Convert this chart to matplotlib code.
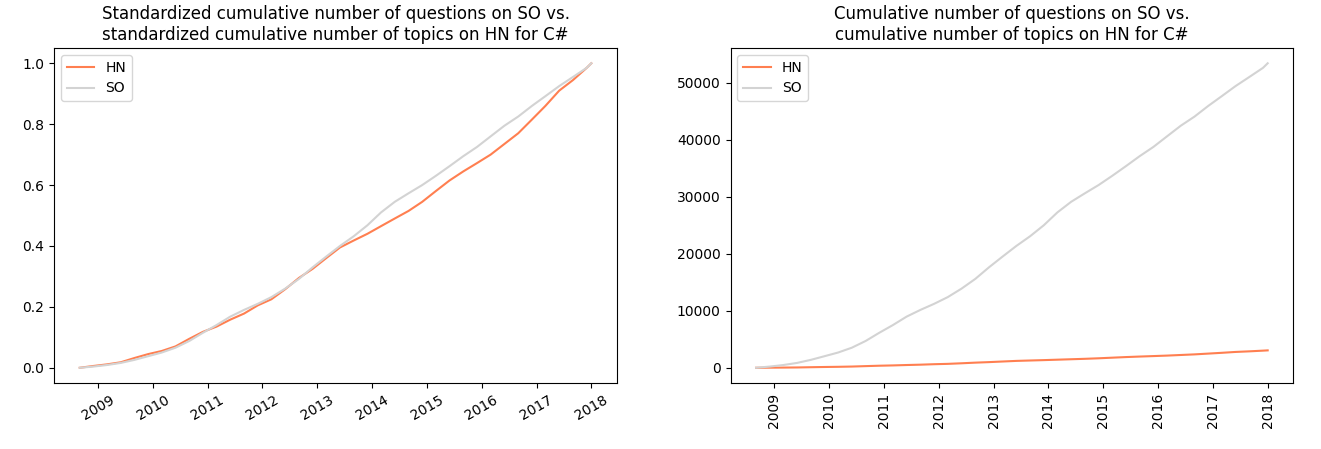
import numpy as np
import pandas as pd
import matplotlib
matplotlib.use("Agg")
import matplotlib.pyplot as plt
import matplotlib.dates as mdates

# quarterly sample dates
dates = pd.to_datetime([
    "2008-09-01", "2008-12-01",
    "2009-03-01", "2009-06-01", "2009-09-01", "2009-12-01",
    "2010-03-01", "2010-06-01", "2010-09-01", "2010-12-01",
    "2011-03-01", "2011-06-01", "2011-09-01", "2011-12-01",
    "2012-03-01", "2012-06-01", "2012-09-01", "2012-12-01",
    "2013-03-01", "2013-06-01", "2013-09-01", "2013-12-01",
    "2014-03-01", "2014-06-01", "2014-09-01", "2014-12-01",
    "2015-03-01", "2015-06-01", "2015-09-01", "2015-12-01",
    "2016-03-01", "2016-06-01", "2016-09-01", "2016-12-01",
    "2017-03-01", "2017-06-01", "2017-09-01", "2017-12-01",
    "2018-01-01",
])

# cumulative number of questions on SO (C#)
so_cum = np.array([
    0, 210, 480, 850, 1390, 2030, 2670, 3520, 4700, 6140,
    7480, 8970, 10150, 11210, 12390, 13880, 15590, 17620, 19490, 21360,
    23070, 24990, 27230, 29100, 30600, 32040, 33640, 35350, 37110, 38720,
    40580, 42450, 44060, 45920, 47630, 49400, 51000, 52600, 53400,
])

# cumulative number of topics on HN (C#)
hn_cum = np.array([
    0, 18, 34, 55, 98, 137, 168, 214, 290, 360,
    412, 482, 543, 625, 686, 787, 900, 991, 1098, 1205,
    1275, 1342, 1418, 1495, 1571, 1662, 1769, 1876, 1967, 2050,
    2135, 2242, 2349, 2486, 2623, 2776, 2882, 3004, 3050,
])

def standardize(v):
    return (v - v.min()) / (v.max() - v.min())

fig = plt.figure(figsize=(13.21, 4.49), dpi=100)
ax1 = fig.add_axes([0.041, 0.147, 0.426, 0.746])
ax2 = fig.add_axes([0.553, 0.147, 0.426, 0.746])

ax1.plot(dates, standardize(hn_cum), color="coral", label="HN")
ax1.plot(dates, standardize(so_cum), color="lightgray", label="SO")
ax1.set_title("Standardized cumulative number of questions on SO vs.\n"
              "standardized cumulative number of topics on HN for C#")
ax1.legend(loc="upper left")

ax2.plot(dates, hn_cum, color="coral", label="HN")
ax2.plot(dates, so_cum, color="lightgray", label="SO")
ax2.set_title("Cumulative number of questions on SO vs.\n"
              "cumulative number of topics on HN for C#")
ax2.legend(loc="upper left")

for ax, rot in ((ax1, 30), (ax2, 90)):
    ax.xaxis.set_major_locator(mdates.YearLocator())
    ax.xaxis.set_major_formatter(mdates.DateFormatter("%Y"))
    for lbl in ax.get_xticklabels():
        lbl.set_rotation(rot)

fig.savefig("out.png", dpi=100)
